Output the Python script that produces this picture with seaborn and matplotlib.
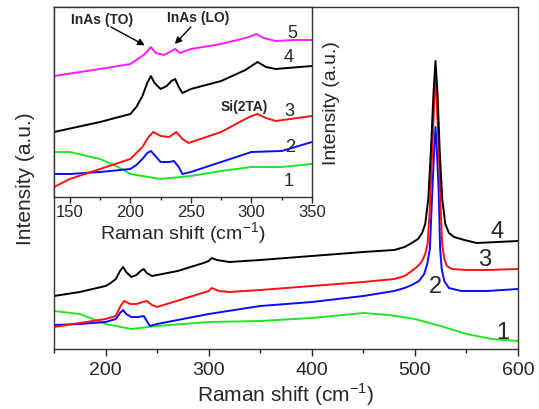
import numpy as np
import pandas as pd
import matplotlib
matplotlib.use('Agg')
import matplotlib.pyplot as plt
from matplotlib.ticker import MultipleLocator, NullLocator
import seaborn as sns

# 主图数据 (Raman shift, 强度, 任意单位)
black_x = [150, 175, 200, 205, 210, 214, 217, 220, 225, 230, 234, 237, 240, 245, 270, 295, 300, 303, 308, 320, 350,
           400, 450, 480, 490, 497, 503, 507, 510, 513, 515.6, 518, 520, 522, 524, 526.5, 529.5, 533, 538, 548,
           560, 580, 600]
black_y = [53, 57, 63, 66, 70, 78, 82, 77, 72, 74, 78, 80, 76, 73, 78, 86, 88, 91, 89, 87, 89,
           93, 97, 99, 102, 106, 110, 116, 125, 150, 200, 255, 288, 255, 200, 150, 125, 116, 112, 109,
           106, 107, 108]
red_x = [150, 175, 200, 210, 214, 218, 224, 230, 236, 240, 245, 250, 275, 300, 303, 310, 320, 350, 400, 450,
         480, 490, 497, 503, 507, 510, 512.3, 514.5, 516.5, 518.5, 520, 521.5, 523.5, 525, 526.5, 528.5, 531, 536,
         550, 570, 600]
red_y = [22, 26, 30, 33, 42, 48, 45, 45, 47, 48, 44, 42, 50, 58, 61, 58, 57, 59, 63, 67,
         70, 73, 78, 83, 88, 95, 105, 140, 190, 240, 280, 240, 190, 140, 105, 90, 83, 80,
         79, 79, 80]
blue_x = [150, 175, 200, 210, 214, 217, 220, 225, 232, 237, 240, 243, 250, 275, 300, 350, 400, 450, 480, 490,
          497, 504, 509, 512, 514.5, 517, 519, 520, 521, 523, 524.5, 526, 528.5, 533, 545, 570, 600]
blue_y = [24, 25, 27, 30, 36, 39, 35, 32, 32, 33, 28, 23, 25, 30, 35, 43, 47, 53, 58, 61,
          64, 68, 75, 85, 100, 160, 205, 222, 205, 160, 100, 80, 68, 61, 58, 58, 60]
green_x = [150, 175, 200, 225, 250, 300, 350, 400, 450, 475, 500, 525, 550, 575, 600]
green_y = [38, 35, 25, 20, 23, 27, 28, 31, 36, 34, 30, 23, 15, 10, 8]

# 插图数据 (137-350 cm-1)
ins_mag_x = [137, 175, 200, 205, 212, 217, 221, 228, 234, 237, 241, 250, 275, 295, 300, 304, 310, 320, 335, 350]
ins_mag_y = [121, 128, 133, 137, 143, 150, 144, 142, 146, 148, 144, 148, 153, 159, 161, 163, 159, 156, 157, 157]
ins_blk_x = [137, 175, 200, 205, 210, 214, 217, 220, 225, 230, 234, 237, 240, 243, 250, 275, 295, 300, 305,
             312, 320, 350]
ins_blk_y = [65, 75, 83, 90, 101, 114, 121, 114, 108, 111, 116, 118, 110, 104, 108, 116, 127, 131, 135,
             130, 128, 131]
ins_red_x = [137, 150, 175, 200, 205, 210, 215, 219, 225, 232, 238, 243, 248, 275, 295, 300, 305, 312, 320, 350]
ins_red_y = [10, 18, 28, 38, 44, 50, 60, 65, 61, 60, 65, 58, 54, 65, 78, 81, 83, 79, 76, 81]
ins_blu_x = [137, 150, 175, 200, 205, 210, 214, 217, 220, 225, 232, 236, 240, 243, 250, 275, 300, 325, 350]
ins_blu_y = [23, 23, 25, 28, 32, 38, 44, 46, 42, 35, 35, 36, 30, 23, 25, 35, 45, 46, 55]
ins_grn_x = [137, 150, 175, 190, 200, 225, 250, 275, 300, 325, 350]
ins_grn_y = [45, 45, 38, 30, 23, 18, 21, 26, 30, 30, 33]

main_labels = ['1', '2', '3', '4']
inset_labels = ['1', '2', '3', '4', '5']

sns.set_style('ticks')
plt.rcParams['font.family'] = ['Liberation Sans', 'DejaVu Sans']
plt.rcParams['mathtext.fontset'] = 'custom'
plt.rcParams['mathtext.rm'] = 'Liberation Sans'

c_green, c_blue, c_red, c_black, c_mag = '#22e622', '#0a0aff', '#ff1010', 'black', '#ff1aff'

fig = plt.figure(figsize=(5.39, 4.10), dpi=100)
ax = fig.add_axes([54 / 539, 60 / 410, 464 / 539, 342 / 410])

main_series = [(green_x, green_y, c_green), (blue_x, blue_y, c_blue),
               (red_x, red_y, c_red), (black_x, black_y, c_black)]
for xs, ys, col in main_series:
    d = pd.DataFrame({'x': xs, 'y': ys})
    sns.lineplot(data=d, x='x', y='y', ax=ax, color=col, lw=1.4, sort=False, estimator=None)

ax.set_xlim(150, 600)
ax.set_ylim(0, 342)
ax.xaxis.set_major_locator(MultipleLocator(100))
ax.xaxis.set_minor_locator(MultipleLocator(50))
ax.yaxis.set_major_locator(NullLocator())
ax.tick_params(axis='x', which='major', direction='out', length=5, width=1, labelsize=14, top=False)
ax.tick_params(axis='x', which='minor', direction='out', length=3, width=1)
ax.set_xlabel('Raman shift (cm$^{-1}$)', fontsize=15, labelpad=2)
ax.set_ylabel('Intensity (a.u.)', fontsize=15, labelpad=14)
for s in ax.spines.values():
    s.set_linewidth(1)
    s.set_color('#333333')

# 曲线编号
for (tx, ty), t in zip([(585, 17), (520, 63), (568, 90), (580, 118)], main_labels):
    ax.text(tx, ty, t, fontsize=17, ha='center', va='center')

# 插图
ins = fig.add_axes([54 / 539, 212 / 410, 258 / 539, 190 / 410])
ins.set_facecolor('white')
inset_series = [(ins_grn_x, ins_grn_y, c_green), (ins_blu_x, ins_blu_y, c_blue),
                (ins_red_x, ins_red_y, c_red), (ins_blk_x, ins_blk_y, c_black),
                (ins_mag_x, ins_mag_y, c_mag)]
for xs, ys, col in inset_series:
    d = pd.DataFrame({'x': xs, 'y': ys})
    sns.lineplot(data=d, x='x', y='y', ax=ins, color=col, lw=1.4, sort=False, estimator=None)

ins.set_xlim(137, 350)
ins.set_ylim(0, 190)
ins.xaxis.set_major_locator(MultipleLocator(50))
ins.xaxis.set_minor_locator(MultipleLocator(25))
ins.yaxis.set_major_locator(NullLocator())
ins.tick_params(axis='x', which='major', direction='out', length=4, width=1, labelsize=12, pad=1)
ins.tick_params(axis='x', which='minor', direction='out', length=2.5, width=1)
ins.set_xlabel('Raman shift (cm$^{-1}$)', fontsize=14, labelpad=0)
ins.yaxis.set_label_position('right')
ins.set_ylabel('Intensity (a.u.)', fontsize=14, labelpad=8)
for s in ins.spines.values():
    s.set_linewidth(1)
    s.set_color('#333333')

for (tx, ty), t in zip([(331, 16), (332, 51), (331, 86), (331, 140), (334, 165)], inset_labels):
    ins.text(tx, ty, t, fontsize=13, ha='center', va='center')

ins.text(294, 91, 'Si(2TA)', fontsize=10, fontweight='bold', ha='center', va='center')
ins.text(177, 178, 'InAs (TO)', fontsize=10, fontweight='bold', ha='center', va='center')
ins.text(256, 180, 'InAs (LO)', fontsize=10, fontweight='bold', ha='center', va='center')
ins.annotate('', xy=(213, 151), xytext=(184, 170),
             arrowprops=dict(arrowstyle='-|>', color='black', lw=1, shrinkA=0, shrinkB=1))
ins.annotate('', xy=(236, 152), xytext=(250, 170),
             arrowprops=dict(arrowstyle='-|>', color='black', lw=1, shrinkA=0, shrinkB=1))

fig.savefig('out.png', dpi=100)
